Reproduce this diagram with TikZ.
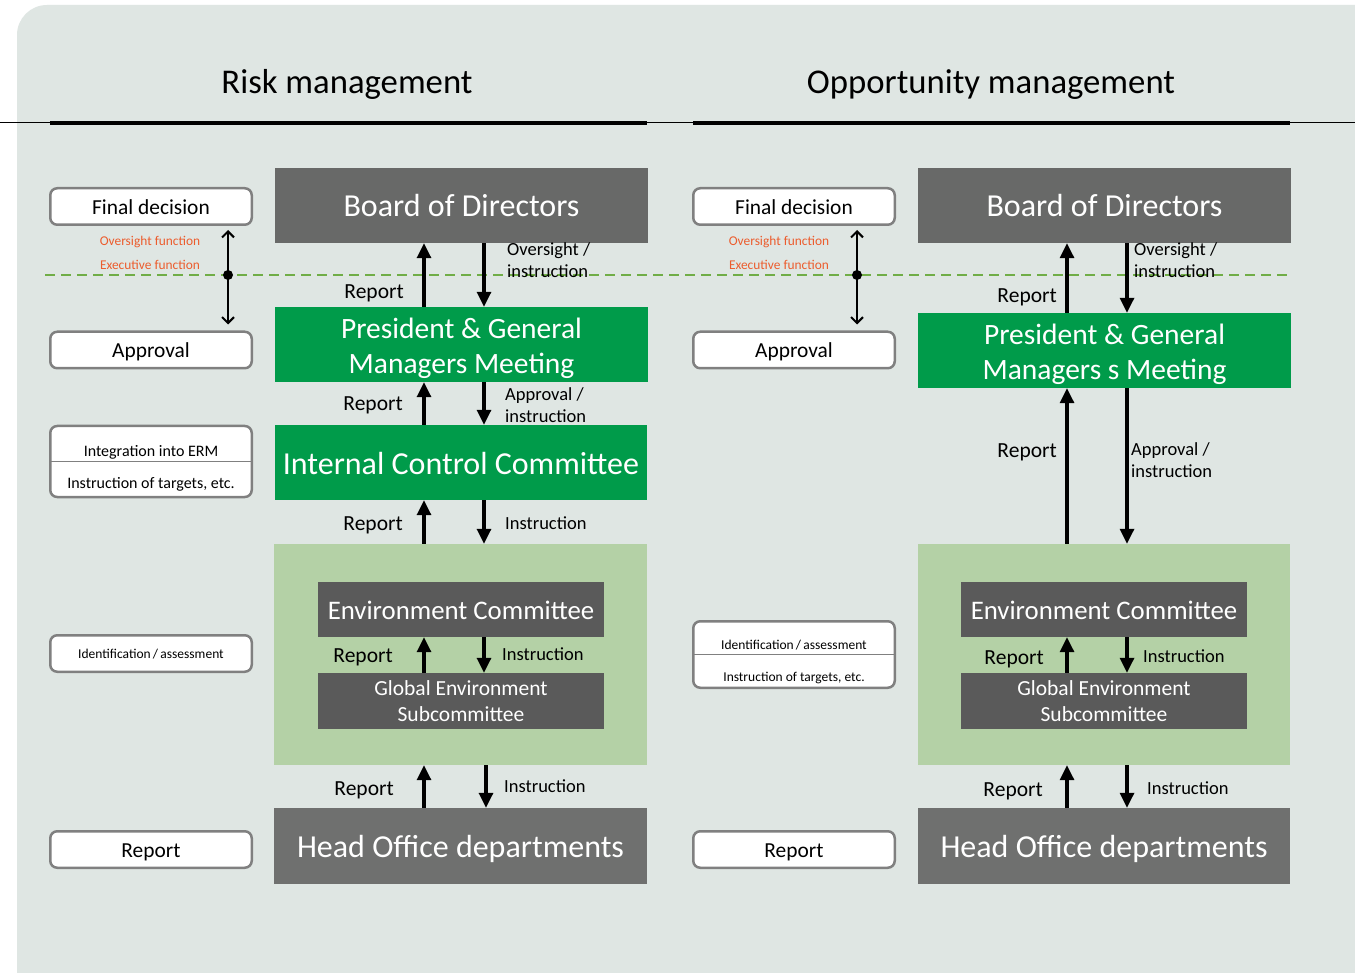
\documentclass[tikz,border=0pt]{standalone}
\usepackage{fontspec}
\setmainfont{Carlito}
\usetikzlibrary{arrows.meta}
\definecolor{bgc}{RGB}{223,230,227}
\definecolor{boardgray}{RGB}{104,105,104}
\definecolor{hogray}{RGB}{111,112,111}
\definecolor{ecgray}{RGB}{90,90,90}
\definecolor{mgreen}{RGB}{0,155,74}
\definecolor{lgreen}{RGB}{180,209,166}
\definecolor{dashgreen}{RGB}{112,173,71}
\definecolor{orng}{RGB}{236,92,45}
\definecolor{bordergray}{RGB}{128,128,128}
\begin{document}
\begin{tikzpicture}[x=1pt,y=-1pt,
  mainbox/.style={inner sep=0pt, text=white, minimum width=373pt, minimum height=75pt, align=center},
  bigtxt/.style={font=\fontsize{32}{38}\selectfont, text height=23pt, text depth=0pt},
  ectxt/.style={font=\fontsize{26.8}{31}\selectfont, text height=19.3pt, text depth=0pt},
  pgmtxt/.style={text=white, align=center, inner sep=0pt, font=\fontsize{29.5}{35}\selectfont},
  titletxt/.style={inner sep=0pt, font=\fontsize{34.7}{40}\selectfont, text height=25pt, text depth=0pt},
  sidebox/.style={draw=bordergray, line width=2.5pt, fill=white, rounded corners=7pt,
     minimum width=201.5pt, minimum height=36.5pt, inner sep=0pt,
     font=\fontsize{21.4}{25}\selectfont, text height=15.4pt, text depth=0pt},
  smalltxt/.style={inner sep=0pt, font=\fontsize{16}{19}\selectfont, text height=11.5pt, text depth=0pt},
  tinytxt/.style={inner sep=0pt, font=\fontsize{13.5}{16}\selectfont, text height=9.7pt, text depth=0pt},
  orangetxt/.style={inner sep=0pt, text=orng, font=\fontsize{13.4}{16}\selectfont, text height=9.6pt, text depth=0pt},
  arr/.style={line width=3.2pt, -{Triangle[length=15pt,width=14pt]}},
  dblarr/.style={line width=2.5pt, {Straight Barb[length=6pt,width=12pt,line width=2pt]}-{Straight Barb[length=6pt,width=12pt,line width=2pt]}},
  lbl/.style={inner sep=0pt, font=\fontsize{21.5}{25}\selectfont, text height=15.5pt, text depth=0pt},
  lbls/.style={inner sep=0pt, align=left, font=\fontsize{18.5}{21.5}\selectfont}
]
\useasboundingbox (0,0) rectangle (1355,973);
\fill[white] (0,0) rectangle (1355,973);
\fill[bgc, rounded corners=30pt] (17,5) rectangle (1420,1040);

% titles
\node[titletxt] (t1) at (347,81) {Risk management};
\node[titletxt] (t2) at (991,81) {Opportunity management};
\draw[line width=1pt] (0,123) -- (1355,123);
\draw[line width=4pt] (50,123) -- (647,123);
\draw[line width=4pt] (693,123) -- (1290,123);

% dashed line
\draw[dashgreen, line width=2pt, dash pattern=on 10pt off 6pt] (45,275) -- (1290,275);

% ---------- left side boxes (risk) ----------
\node[sidebox] (fd1) at (151,206.5) {Final decision};
\node[sidebox] (ap1) at (151,350) {Approval};
\node[sidebox, minimum height=71pt] (ie1) at (151,461.5) {};
\draw[bordergray, line width=1.5pt] (ie1.west) -- (ie1.east);
\node[smalltxt] (ie1a) at (151,451) {Integration into ERM};
\node[smalltxt] (ie1b) at (151,483) {Instruction of targets, etc.};
\node[sidebox] (id1) at (151,653.5) {};
\node[tinytxt] (id1a) at (151,653.5) {Identification\,/\,assessment};
\node[sidebox] (rp1) at (151,849.5) {Report};
\node[orangetxt] (of1) at (150,241) {Oversight function};
\node[orangetxt] (ef1) at (150,265) {Executive function};
\draw[dblarr] ([xshift=77pt,yshift=-4pt]fd1.south) -- ([xshift=77pt,yshift=6pt]ap1.north);
\fill (228,275) circle (5);

% ---------- left main column ----------
\node[mainbox, fill=boardgray, bigtxt] (bod1) at (461.5,205.5) {Board of Directors};
\node[mainbox, fill=mgreen, label={[pgmtxt, yshift=-4pt]center:President \& General\\Managers Meeting}] (pgm1) at (461.5,344.5) {};
\node[mainbox, fill=mgreen, bigtxt, minimum width=372pt] (icc1) at (461,462.5) {Internal Control Committee};
\node[mainbox, fill=lgreen, minimum height=221pt] (lg1) at (460.5,654.5) {};
\node[mainbox, fill=ecgray, minimum width=286pt, minimum height=55pt, ectxt] (ec1) at (461,609.5) {Environment Committee};
\node[mainbox, fill=ecgray, minimum width=286pt, minimum height=56pt, font=\fontsize{21.5}{26}\selectfont] (ges1) at (461,701) {Global Environment\\Subcommittee};
\node[mainbox, fill=hogray, bigtxt, minimum height=76pt] (ho1) at (460.5,846) {Head Office departments};

\draw[arr] ([xshift=-37.5pt]pgm1.north) -- ([xshift=-37.5pt]bod1.south);
\draw[arr] ([xshift=22.5pt]bod1.south) -- ([xshift=22.5pt]pgm1.north);
\draw[arr] ([xshift=-37pt]icc1.north) -- ([xshift=-37.5pt]pgm1.south);
\draw[arr] ([xshift=22.5pt]pgm1.south) -- ([xshift=23pt]icc1.north);
\draw[arr] ([xshift=-36.5pt]lg1.north) -- ([xshift=-37pt]icc1.south);
\draw[arr] ([xshift=23pt]icc1.south) -- ([xshift=23.5pt]lg1.north);
\draw[arr] ([xshift=-37pt]ges1.north) -- ([xshift=-37pt]ec1.south);
\draw[arr] ([xshift=23pt]ec1.south) -- ([xshift=23pt]ges1.north);
\draw[arr] ([xshift=-36.5pt]ho1.north) -- ([xshift=-36.5pt]lg1.south);
\draw[arr] ([xshift=25.5pt]lg1.south) -- ([xshift=25.5pt]ho1.north);

\node[lbl, anchor=east] (l1) at (404,291) {Report};
\node[lbls, anchor=west] (l2) at (507,260) {Oversight /\\instruction};
\node[lbl, anchor=east] (l3) at (403,403) {Report};
\node[lbls, anchor=west] (l4) at (505,405) {Approval /\\instruction};
\node[lbl, anchor=east] (l5) at (403,523) {Report};
\node[lbls, anchor=west] (l6) at (505,523) {Instruction};
\node[lbl, anchor=east] (l7) at (393,655) {Report};
\node[lbls, anchor=west] (l8) at (502,654) {Instruction};
\node[lbl, anchor=east] (l9) at (394,788) {Report};
\node[lbls, anchor=west] (l10) at (504,786) {Instruction};

% ---------- right side boxes (opportunity) ----------
\node[sidebox] (fd2) at (794,206.5) {Final decision};
\node[sidebox] (ap2) at (794,350) {Approval};
\node[sidebox, minimum height=66.5pt] (id2) at (794,654.5) {};
\draw[bordergray, line width=1.5pt] (id2.west) -- (id2.east);
\node[tinytxt] (id2a) at (794,645) {Identification\,/\,assessment};
\node[tinytxt] (id2b) at (794,677) {Instruction of targets, etc.};
\node[sidebox] (rp2) at (794,849.5) {Report};
\node[orangetxt] (of2) at (779,241) {Oversight function};
\node[orangetxt] (ef2) at (779,265) {Executive function};
\draw[dblarr] ([xshift=63pt,yshift=-4pt]fd2.south) -- ([xshift=63pt,yshift=6pt]ap2.north);
\fill (857,275) circle (5);

% ---------- right main column ----------
\node[mainbox, fill=boardgray, bigtxt] (bod2) at (1104.5,205.5) {Board of Directors};
\node[mainbox, fill=mgreen, label={[pgmtxt, yshift=-4pt]center:President \& General\\Managers s Meeting}] (pgm2) at (1104.5,350.5) {};
\node[mainbox, fill=lgreen, minimum width=372pt, minimum height=221pt] (lg2) at (1104,654.5) {};
\node[mainbox, fill=ecgray, minimum width=286pt, minimum height=55pt, ectxt] (ec2) at (1104,609.5) {Environment Committee};
\node[mainbox, fill=ecgray, minimum width=286pt, minimum height=56pt, font=\fontsize{21.5}{26}\selectfont] (ges2) at (1104,701) {Global Environment\\Subcommittee};
\node[mainbox, fill=hogray, bigtxt, minimum width=372pt, minimum height=76pt] (ho2) at (1104,846) {Head Office departments};

\draw[arr] ([xshift=-37.5pt]pgm2.north) -- ([xshift=-37.5pt]bod2.south);
\draw[arr] ([xshift=22.5pt]bod2.south) -- ([xshift=22.5pt]pgm2.north);
\draw[arr] ([xshift=-37pt]lg2.north) -- ([xshift=-37.5pt]pgm2.south);
\draw[arr] ([xshift=22.5pt]pgm2.south) -- ([xshift=23pt]lg2.north);
\draw[arr] ([xshift=-37pt]ges2.north) -- ([xshift=-37pt]ec2.south);
\draw[arr] ([xshift=23pt]ec2.south) -- ([xshift=23pt]ges2.north);
\draw[arr] ([xshift=-37pt]ho2.north) -- ([xshift=-37pt]lg2.south);
\draw[arr] ([xshift=23pt]lg2.south) -- ([xshift=23pt]ho2.north);

\node[lbl, anchor=east] (r1) at (1057,295) {Report};
\node[lbls, anchor=west] (r2) at (1134,260) {Oversight /\\instruction};
\node[lbl, anchor=east] (r3) at (1057,450) {Report};
\node[lbls, anchor=west] (r4) at (1131,460) {Approval /\\instruction};
\node[lbl, anchor=east] (r5) at (1044,657) {Report};
\node[lbls, anchor=west] (r6) at (1143,656) {Instruction};
\node[lbl, anchor=east] (r7) at (1043,789) {Report};
\node[lbls, anchor=west] (r8) at (1147,788) {Instruction};
\end{tikzpicture}
\end{document}
